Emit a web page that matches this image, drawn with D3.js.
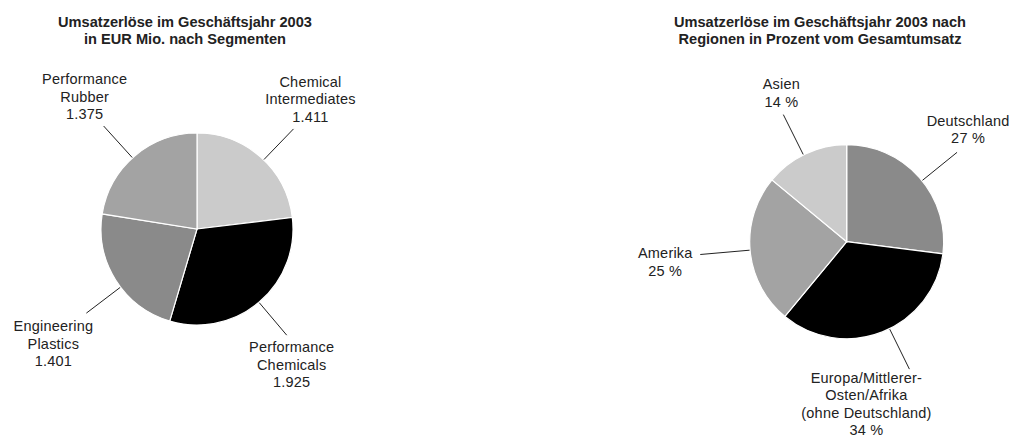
<!DOCTYPE html>
<html>
<head>
<meta charset="utf-8">
<script src="https://cdn.jsdelivr.net/npm/d3@7"></script>
<style>
  body { margin: 0; background: #fff; }
  svg text { font-family: "Liberation Sans", Arial, sans-serif; fill: #222; }
</style>
</head>
<body>
<svg id="chart" width="1013" height="438"></svg>
<script>
// data
var segmentNames = [["Chemical", "Intermediates"], ["Performance", "Chemicals"], ["Engineering", "Plastics"], ["Performance", "Rubber"]];
var segmentValues = [1411, 1925, 1401, 1375];
var regionNames = [["Deutschland"], ["Europa/Mittlerer-", "Osten/Afrika", "(ohne Deutschland)"], ["Amerika"], ["Asien"]];
var regionShares = [27, 34, 25, 14];
var titleLeft = ["Umsatzerlöse im Geschäftsjahr 2003", "in EUR Mio. nach Segmenten"];
var titleRight = ["Umsatzerlöse im Geschäftsjahr 2003 nach", "Regionen in Prozent vom Gesamtumsatz"];

// styles / layout
var segmentColors = ["#cbcbcb", "#000000", "#8a8a8a", "#a3a3a3"];
var regionColors = ["#8a8a8a", "#000000", "#a3a3a3", "#cbcbcb"];
// leader angle nudge (deg), leader length and label block placement relative to leader end
var segmentLayout = [
  {nudge: 2.4, lead: 43, dx: 17, dy: -12, pos: "above"},
  {nudge: 0, lead: 43, dx: 5, dy: 12, pos: "below"},
  {nudge: -5, lead: 43, dx: -33, dy: 13, pos: "below"},
  {nudge: -1.7, lead: 43, dx: -19, dy: -12, pos: "above"}
];
var regionLayout = [
  {nudge: 2.4, lead: 45, dx: 11, dy: -14, pos: "above"},
  {nudge: -4.6, lead: 45, dx: -43, dy: 8.5, pos: "below"},
  {nudge: 0.4, lead: 50, dx: -35, dy: -1, pos: "below"},
  {nudge: -1.3, lead: 45, dx: -2, dy: -13, pos: "above"}
];

var de = d3.formatLocale({decimal: ",", thousands: ".", grouping: [3], currency: ["", " €"]});
var fmtNum = de.format(",");

var svg = d3.select("#chart");
var lineH = 17.5;

function title(lines, cx) {
  svg.append("text")
    .attr("text-anchor", "middle")
    .style("font-weight", "bold")
    .style("font-size", "14.6px")
    .selectAll("tspan")
    .data(lines)
    .enter().append("tspan")
    .attr("x", cx)
    .attr("y", function(d, i) { return 26.5 + i * 17.6; })
    .text(function(d) { return d; });
}

function drawPie(cx, cy, r, values, colors, labels, layout) {
  var pie = d3.pie().sort(null).value(function(d) { return d; });
  var arcs = pie(values);
  var arc = d3.arc().innerRadius(0).outerRadius(r);
  var g = svg.append("g").attr("transform", "translate(" + cx + "," + cy + ")");

  g.selectAll("path.slice")
    .data(arcs)
    .enter().append("path")
    .attr("class", "slice")
    .attr("d", arc)
    .style("fill", function(d, i) { return colors[i]; })
    .style("stroke", "#fff")
    .style("stroke-width", 1.2);

  arcs.forEach(function(d, i) {
    var L = layout[i];
    var a = (d.startAngle + d.endAngle) / 2 + L.nudge * Math.PI / 180;
    var p0 = [Math.sin(a) * (r + 0.5), -Math.cos(a) * (r + 0.5)];
    var p1 = [Math.sin(a) * (r + L.lead), -Math.cos(a) * (r + L.lead)];
    g.append("line")
      .attr("x1", p0[0]).attr("y1", p0[1])
      .attr("x2", p1[0]).attr("y2", p1[1])
      .style("stroke", "#222")
      .style("stroke-width", 1);

    var lines = labels[i];
    var n = lines.length;
    var firstCenter = L.pos === "above" ? p1[1] + L.dy - (n - 1) * lineH : p1[1] + L.dy;
    g.append("text")
      .attr("text-anchor", "middle")
      .style("font-size", "14.5px")
      .style("letter-spacing", "0.2px")
      .selectAll("tspan")
      .data(lines)
      .enter().append("tspan")
      .attr("x", p1[0] + L.dx)
      .attr("y", function(t, k) { return firstCenter + k * lineH + 5; })
      .text(function(t) { return t; });
  });
}

title(titleLeft, 185);
title(titleRight, 820);

var segLabels = segmentNames.map(function(n, i) { return n.concat([fmtNum(segmentValues[i])]); });
var regLabels = regionNames.map(function(n, i) { return n.concat([regionShares[i] + " %"]); });

drawPie(197, 229, 96, segmentValues, segmentColors, segLabels, segmentLayout);
drawPie(846.7, 241.7, 97, regionShares, regionColors, regLabels, regionLayout);
</script>
</body>
</html>
